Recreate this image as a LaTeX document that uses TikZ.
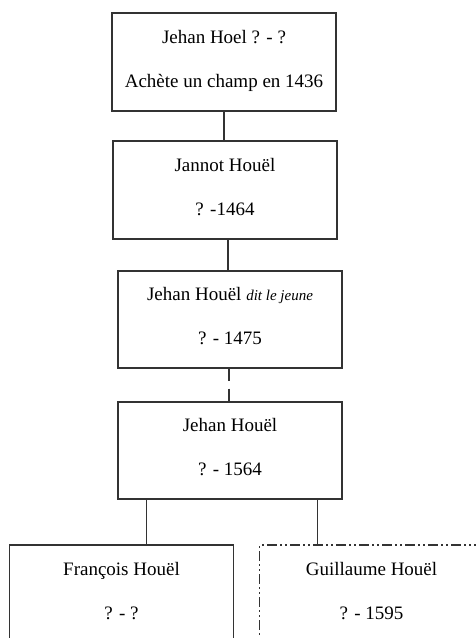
\documentclass[tikz,border=0pt]{standalone}
\usepackage{fontspec}
\setmainfont{Liberation Serif}
\usetikzlibrary{positioning}
\newcommand{\fs}  {\fontsize{19}{44}\selectfont}
\newcommand{\dit} {{\fontsize{15}{15}\selectfont\itshape dit le jeune}}
\newcommand{\bas} {\rule[-7pt]{0pt}{7pt}}

\begin{document}
\begin{tikzpicture}[x=1pt,y=-1pt,
    pers/.style={draw=black!80,line width=1.2pt,minimum width=224pt,minimum height=98pt,
                 align=center,font=\fs,text=black},
    douteux/.style={dash pattern=on 10pt off 3pt on 2pt off 3pt on 2pt off 3pt}]
   \useasboundingbox (0,0) rectangle (476,638);
   \clip (0,0) rectangle (476,638);
   \begin{scope}
    \draw(224,62) node[pers] (hoel) {Jehan Hoel ? - ?\\Achète un champ en 1436\bas};
    \draw(225,190) node[pers] (jannot) {Jannot Houël\\? -1464\bas};
    \draw(230,319.5) node[pers,minimum height=97pt] (jeune) {Jehan Houël \dit\\? - 1475\bas};
    \draw(230,450.5) node[pers,minimum height=97pt] (jehan) {Jehan Houël\\? - 1564\bas};
    \draw[black!80,line width=1.2pt] (hoel.south) -- (hoel.south |- jannot.north);
    \draw[black!80,line width=1.2pt] ([xshift=-2pt]jeune.north) -- ([xshift=-2pt]jeune.north |- jannot.south);
    \draw[black!80,line width=1.2pt,dash pattern=on 12pt off 8pt] ([xshift=-1pt]jeune.south) -- ([xshift=-1pt]jeune.south |- jehan.north);
   \end{scope}
   \begin{scope}
    \draw(121.5,594) node[pers] (francois) {François Houël\\? - ?\bas};
    \draw(371.5,594) node[pers,douteux] (guillaume) {Guillaume Houël\\? - 1595\bas};
    \draw[black!80,line width=1.2pt] ([xshift=29pt]jehan.south west) -- ([xshift=29pt]jehan.south west |- francois.north);
    \draw[black!80,line width=1.2pt] ([xshift=-25pt]jehan.south east) -- ([xshift=-25pt]jehan.south east |- guillaume.north);
   \end{scope}
  \end{tikzpicture}
\end{document}
